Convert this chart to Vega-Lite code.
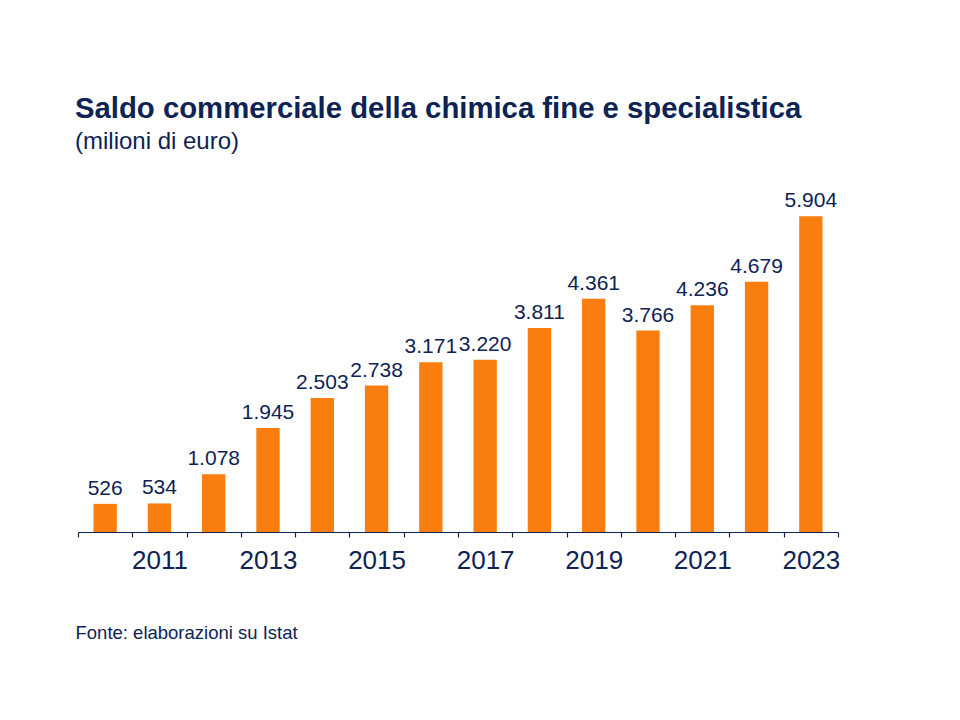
{
  "$schema": "https://vega.github.io/schema/vega-lite/v6.json",
  "width": 760,
  "height": 321,
  "autosize": "none",
  "padding": {"left": 78, "top": 211, "right": 122, "bottom": 188},
  "background": "white",
  "config": {
    "view": {"stroke": null},
    "font": "Liberation Sans",
    "locale": {"number": {"decimal": ",", "thousands": ".", "grouping": [3], "currency": ["€", ""]}}
  },
  "title": {
    "text": "Saldo commerciale della chimica fine e specialistica",
    "subtitle": "(milioni di euro)",
    "anchor": "start",
    "frame": "group",
    "dx": -3,
    "offset": 36,
    "fontSize": 29.3,
    "fontWeight": "bold",
    "color": "#0E2354",
    "subtitleFontSize": 24,
    "subtitleColor": "#0E2354",
    "subtitlePadding": 6
  },
  "data": {
    "values": [
      {"anno": 2010, "valore": 526},
      {"anno": 2011, "valore": 534},
      {"anno": 2012, "valore": 1078},
      {"anno": 2013, "valore": 1945},
      {"anno": 2014, "valore": 2503},
      {"anno": 2015, "valore": 2738},
      {"anno": 2016, "valore": 3171},
      {"anno": 2017, "valore": 3220},
      {"anno": 2018, "valore": 3811},
      {"anno": 2019, "valore": 4361},
      {"anno": 2020, "valore": 3766},
      {"anno": 2021, "valore": 4236},
      {"anno": 2022, "valore": 4679},
      {"anno": 2023, "valore": 5904}
    ]
  },
  "encoding": {
    "x": {
      "field": "anno",
      "type": "ordinal",
      "scale": {"paddingInner": 0, "paddingOuter": 0},
      "axis": {
        "title": "Fonte: elaborazioni su Istat",
        "titleFontSize": 18.5,
        "titleFontWeight": "normal",
        "titleColor": "#0E2354",
        "titleAnchor": "start",
        "titleAlign": "left",
        "titleX": -3,
        "titleY": 91,
        "labelAngle": 0,
        "labelFontSize": 26,
        "labelColor": "#0E2354",
        "labelPadding": 10,
        "labelExpr": "datum.value % 2 == 1 ? datum.label : ''",
        "tickBand": "extent",
        "tickSize": 5,
        "tickColor": "#0E2354",
        "domainColor": "#0E2354",
        "domainWidth": 1.2,
        "tickWidth": 1.2
      }
    },
    "y": {
      "field": "valore",
      "type": "quantitative",
      "scale": {"domain": [0, 6000]},
      "axis": null
    }
  },
  "layer": [
    {"mark": {"type": "bar", "color": "#FA7D0F", "width": {"band": 0.43}}},
    {
      "mark": {"type": "text", "dy": -9, "fontSize": 21, "color": "#0E2354", "baseline": "alphabetic"},
      "encoding": {"text": {"field": "valore", "type": "quantitative", "format": ",d"}}
    }
  ]
}
